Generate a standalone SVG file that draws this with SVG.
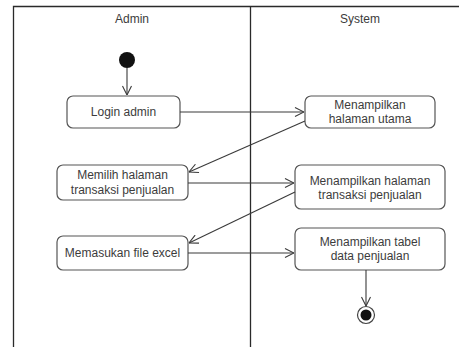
<svg xmlns="http://www.w3.org/2000/svg" width="459" height="347" viewBox="0 0 459 347">
  <style>
    .lane { stroke: #2a2a2a; stroke-width: 1.3; fill: none; }
    .act rect { fill: #ffffff; stroke: #555555; stroke-width: 1.2; }
    text { font-family: "Liberation Sans", Arial, sans-serif; font-size: 12px; fill: #3c3c3c; text-anchor: middle; }
    .edge { stroke: #3a3a3a; stroke-width: 1.1; fill: none; marker-end: url(#open); }
  </style>
  <defs>
    <marker id="open" viewBox="0 0 10 10" refX="10" refY="5" markerWidth="10" markerHeight="10" markerUnits="userSpaceOnUse" orient="auto">
      <path d="M1,0.5 L10,5 L1,9.5" fill="none" stroke="#3a3a3a" stroke-width="1.1"/>
    </marker>
  </defs>
  <rect width="459" height="347" fill="#ffffff"/>

  <!-- swimlanes -->
  <g id="lanes">
    <path class="lane" d="M13.5,347 V6.5 H459"/>
    <path class="lane" d="M250.5,6.5 V347"/>
    <text x="132" y="23">Admin</text>
    <text x="360" y="23">System</text>
  </g>

  <!-- control nodes -->
  <g id="start">
    <circle cx="127" cy="60" r="8" fill="#111111"/>
  </g>
  <g id="end">
    <circle cx="366" cy="315" r="8.5" fill="#ffffff" stroke="#444444" stroke-width="1.2"/>
    <circle cx="366" cy="315" r="5.5" fill="#111111"/>
  </g>

  <!-- activities -->
  <g id="login" class="act">
    <rect x="67" y="96" width="113" height="32" rx="6"/>
    <text x="123.5" y="116">Login admin</text>
  </g>
  <g id="halaman-utama" class="act">
    <rect x="305" y="96" width="130" height="32" rx="6"/>
    <text x="370" y="109">Menampilkan</text>
    <text x="370" y="123">halaman utama</text>
  </g>
  <g id="pilih-transaksi" class="act">
    <rect x="57" y="165" width="131" height="35" rx="6"/>
    <text x="122.5" y="179">Memilih halaman</text>
    <text x="122.5" y="194">transaksi penjualan</text>
  </g>
  <g id="halaman-transaksi" class="act">
    <rect x="295" y="165" width="150" height="44" rx="6"/>
    <text x="370" y="185">Menampilkan halaman</text>
    <text x="370" y="199">transaksi penjualan</text>
  </g>
  <g id="file-excel" class="act">
    <rect x="57" y="236" width="131" height="34" rx="6"/>
    <text x="122.5" y="257">Memasukan file excel</text>
  </g>
  <g id="tabel-penjualan" class="act">
    <rect x="295" y="228" width="150" height="42" rx="6"/>
    <text x="370" y="246">Menampilkan tabel</text>
    <text x="370" y="260">data penjualan</text>
  </g>

  <!-- control flows -->
  <g id="flows">
    <path class="edge" d="M127,68 V95"/>
    <path class="edge" d="M180,112 H304"/>
    <path class="edge" d="M305,121 L189,172"/>
    <path class="edge" d="M188,183 H294"/>
    <path class="edge" d="M295,192 L189,243"/>
    <path class="edge" d="M188,253 H294"/>
    <path class="edge" d="M366,270 V306"/>
  </g>
</svg>
